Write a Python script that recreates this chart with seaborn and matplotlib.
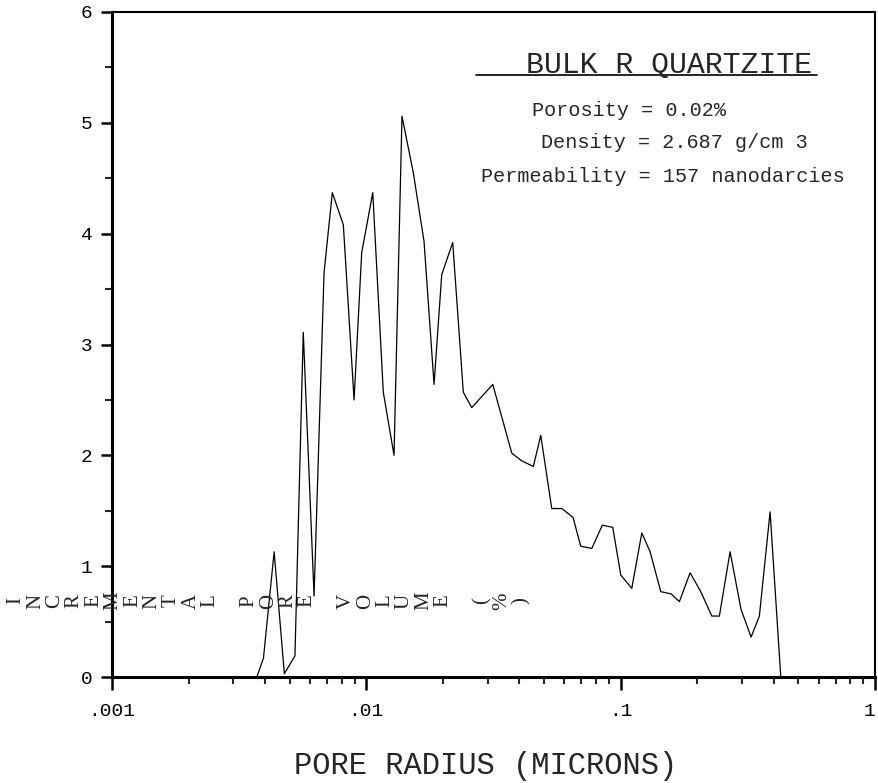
import numpy as np
import pandas as pd
import matplotlib
matplotlib.use("Agg")
import matplotlib.pyplot as plt
import seaborn as sns
from matplotlib.ticker import LogLocator, FixedLocator, FixedFormatter, MultipleLocator, NullFormatter
from matplotlib.lines import Line2D

# ---- data ----
pore_radius_um = [0.00177, 0.00371, 0.00394, 0.00434, 0.00476, 0.00524, 0.00565, 0.00623,
                  0.00682, 0.00735, 0.00812, 0.00895, 0.00959, 0.01060, 0.01166, 0.01285,
                  0.01381, 0.01530, 0.01686, 0.01846, 0.01979, 0.02186, 0.02406, 0.02597,
                  0.03141, 0.03731, 0.04084, 0.04536, 0.04851, 0.05358, 0.05865, 0.06497,
                  0.06966, 0.07697, 0.08472, 0.09309, 0.1001, 0.1106, 0.1211, 0.1305,
                  0.1438, 0.1578, 0.1702, 0.1875, 0.2065, 0.2282, 0.2444, 0.2693,
                  0.2974, 0.3257, 0.3511, 0.3868, 0.4262, 0.98]
incr_pore_volume = [0.0, 0.0, 0.17, 1.13, 0.03, 0.19, 3.11, 0.73,
                    3.65, 4.37, 4.08, 2.50, 3.83, 4.37, 2.57, 2.00,
                    5.06, 4.55, 3.93, 2.64, 3.63, 3.92, 2.57, 2.43,
                    2.64, 2.02, 1.95, 1.90, 2.18, 1.52, 1.52, 1.44,
                    1.18, 1.16, 1.37, 1.35, 0.92, 0.80, 1.30, 1.13,
                    0.77, 0.75, 0.68, 0.94, 0.77, 0.55, 0.55, 1.13,
                    0.61, 0.36, 0.55, 1.49, 0.0, 0.0]

x_ticks = [0.001, 0.01, 0.1, 1]
x_tick_labels = [".001", ".01", ".1", "1"]
y_ticks = [0, 1, 2, 3, 4, 5, 6]

title_text = "BULK R QUARTZITE"
stats_lines = ["Porosity = 0.02%", "Density = 2.687 g/cm 3", "Permeability = 157 nanodarcies"]
xlabel_text = "PORE RADIUS (MICRONS)"
ylabel_text = "INCREMENTAL PORE VOLUME (%)"

# ---- plot ----
sns.set_style("ticks")
plt.rcParams['font.family'] = ['Liberation Mono', 'DejaVu Sans']

W, H = 879, 783
fig = plt.figure(figsize=(W / 100, H / 100), dpi=100)
L, R, B, T = 112, 875, 677, 12
ax = fig.add_axes([L / W, 1 - B / H, (R - L) / W, (B - T) / H])

df = pd.DataFrame({"r": pore_radius_um, "v": incr_pore_volume})
sns.lineplot(data=df, x="r", y="v", ax=ax, color="black", linewidth=0.9, estimator=None, sort=False)

ax.set_xscale("log")
ax.set_xlim(0.001, 1)
ax.set_ylim(0, 6)
ax.xaxis.set_major_locator(FixedLocator(x_ticks))
ax.xaxis.set_major_formatter(FixedFormatter(x_tick_labels))
ax.xaxis.set_minor_locator(LogLocator(base=10, subs=np.arange(2, 10)))
ax.xaxis.set_minor_formatter(NullFormatter())
ax.yaxis.set_major_locator(FixedLocator(y_ticks))
ax.yaxis.set_minor_locator(MultipleLocator(0.5))

ax.tick_params(axis="both", which="major", direction="out", length=9, width=1.8,
               labelsize=14, colors="black", pad=10)
ax.tick_params(axis="both", which="minor", direction="out", length=5, width=1.5)
ax.tick_params(axis="y", which="major", length=8, pad=6)

last_tick = ax.xaxis.get_major_ticks()[-1]
last_tick.label1.set_horizontalalignment("right")

for s in ["left", "bottom"]:
    ax.spines[s].set_linewidth(2.2)
for s in ["top", "right"]:
    ax.spines[s].set_linewidth(1.5)
for s in ax.spines.values():
    s.set_color("black")

ax.set_xlabel("")
ax.set_ylabel("")

# x label
fig.text(486 / W, 1 - 766 / H, xlabel_text, ha="center", va="center", fontsize=22)

# y label: each character rotated, laid out horizontally
n = len(ylabel_text)
x0, x1 = 16, 521
for i, ch in enumerate(ylabel_text):
    if ch == " ":
        continue
    px = x0 + (x1 - x0) * i / (n - 1)
    fig.text(px / W, 1 - 601 / H, ch, rotation=90, ha="center", va="center",
             fontsize=15, family=["Liberation Serif", "DejaVu Sans"])

# title with underline
fig.text(669 / W, 1 - 65 / H, title_text, ha="center", va="center", fontsize=21.5)
fig.add_artist(Line2D([476 / W, 817 / W], [1 - 75 / H, 1 - 75 / H], color="black", linewidth=1.2))

# stats
fig.text(629 / W, 1 - 110 / H, stats_lines[0], ha="center", va="center", fontsize=14.5)
fig.text(674 / W, 1 - 143 / H, stats_lines[1], ha="center", va="center", fontsize=14.5)
fig.text(663 / W, 1 - 176 / H, stats_lines[2], ha="center", va="center", fontsize=14.5)

fig.savefig("out.png", dpi=100, facecolor="white")
